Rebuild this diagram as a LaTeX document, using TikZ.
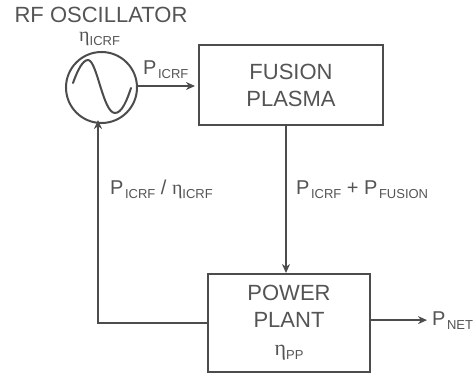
\documentclass[tikz,border=0pt]{standalone}
\usepackage{fontspec}
\setmainfont{Liberation Sans}
\newfontfamily\etafont{Liberation Serif}
\usetikzlibrary{arrows.meta}

\definecolor{inkgray}{gray}{0.3}
\definecolor{textgray}{gray}{0.33}

\newcommand{\lowidx}[1]{\raisebox{-4pt}{\fontsize{13}{13}\selectfont #1}}
\newcommand{\eP}[1]{P\kern1.5pt\lowidx{#1}}
\newcommand{\eEta}[1]{{\etafont η}\lowidx{#1}}

\tikzset{
  blockbox/.style={draw=inkgray, line width=2pt, text=textgray, align=center, font=\fontsize{22}{27}\selectfont},
  flowline/.style={draw=inkgray, line width=2pt, -{Stealth[length=9pt,width=8pt]}},
  flowlabel/.style={text=textgray, font=\fontsize{20}{22}\selectfont, inner sep=0pt}
}

\begin{document}
\begin{tikzpicture}[x=1pt, y=-1pt]

\def\rad{35.5pt}

\useasboundingbox (0,0) rectangle (475,376);

% ---------- blocks ----------
\node[blockbox, minimum width=184pt, minimum height=80pt] (plasma) at (291,85) {FUSION\\PLASMA};
\node[blockbox, minimum width=162pt, minimum height=98pt] (plant) at (289,323) {POWER\\PLANT\\[1pt]\eEta{PP}};
\node[draw=inkgray, line width=2pt, circle, minimum size=2*\rad, inner sep=0pt] (osc) at (101.5,87.5) {};

% ---------- sine inside the oscillator ----------
\draw[inkgray, line width=2pt, line cap=round] (73,83) .. controls (78,69) and (83,60) .. (88,60)
  .. controls (97,60) and (103,113) .. (115,113) .. controls (122,113) and (127,100) .. (131,88);

% ---------- labels ----------
\node[flowlabel, font=\fontsize{22}{24}\selectfont] (title) at (101,15) {RF OSCILLATOR};
\node[flowlabel, anchor=base west] (etaosc) at (79,41) {\eEta{ICRF}};
\node[flowlabel, anchor=base west] (pout) at (143,74) {\eP{ICRF}};
\node[flowlabel, anchor=base west] (pback) at (110,194) {\eP{ICRF} / \eEta{ICRF}};
\node[flowlabel, anchor=base west] (pdown) at (296,194) {\eP{ICRF} + \eP{FUSION}};
\node[flowlabel, anchor=base west] (pnet) at (432,325) {\eP{NET}};

% ---------- connectors ----------
\draw[flowline] ([yshift=1.5pt]osc.east) -- ([xshift=-3pt,yshift=1.5pt]plasma.west |- osc.east);
\draw[flowline] ([xshift=-5pt]plasma.south) -- ([xshift=-3pt]plant.north);
\draw[flowline] (plant.west) -| ([xshift=-3.5pt,yshift=4pt]osc.south);
\draw[flowline] (plant.east |- pnet.west) -- ([xshift=-5pt]pnet.west);

\end{tikzpicture}
\end{document}
